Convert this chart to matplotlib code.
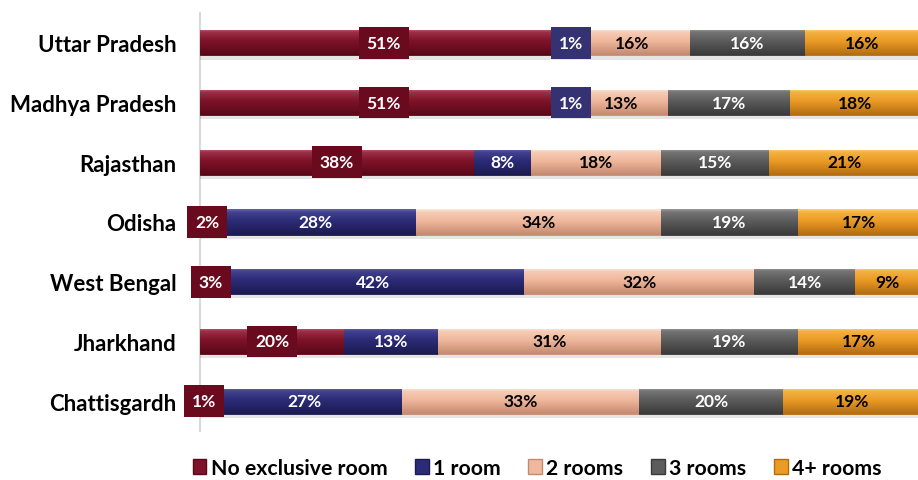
import numpy as np
import matplotlib
matplotlib.use("Agg")
import matplotlib.pyplot as plt
from matplotlib.colors import to_rgb
from matplotlib.patches import Patch

plt.rcParams['font.family'] = ['Lato', 'DejaVu Sans']

states = ["Uttar Pradesh", "Madhya Pradesh", "Rajasthan", "Odisha",
          "West Bengal", "Jharkhand", "Chattisgardh"]
series_names = ["No exclusive room", "1 room", "2 rooms", "3 rooms", "4+ rooms"]
no_room = [51, 51, 38, 2, 3, 20, 1]
one_room = [1, 1, 8, 28, 42, 13, 27]
two_rooms = [16, 13, 18, 34, 32, 31, 33]
three_rooms = [16, 17, 15, 19, 14, 19, 20]
four_plus = [16, 18, 21, 17, 9, 17, 19]
values = [no_room, one_room, two_rooms, three_rooms, four_plus]

# (top highlight, base, bottom shade)
shades = [
    ("#c65a74", "#7e1229", "#5a0818"),
    ("#6462aa", "#2c2b78", "#1c1b50"),
    ("#fde8dc", "#f0b89c", "#c48a70"),
    ("#979797", "#5c5c5c", "#3a3a3a"),
    ("#ffd070", "#eb9c26", "#b46c10"),
]
label_colors = ["white", "white", "black", "white", "black"]
box_colors = ["#6a0a1e", "#353274", None, None, None]

fig = plt.figure(figsize=(9.18, 4.81), dpi=100)
ax = fig.add_axes([200 / 918, 1 - 432 / 481, 720 / 918, 418 / 481])

y = np.arange(len(states))
bar_h = 0.42
left = np.zeros(len(states))


def gradient_img(c_top, c_mid, c_bot, n=64):
    t = np.linspace(0, 1, n)
    a, b, c = (np.array(to_rgb(k)) for k in (c_top, c_mid, c_bot))
    rows = []
    for v in t:
        if v < 0.12:
            col = a + (b - a) * (v / 0.12) * 0.6
        elif v < 0.45:
            col = a + (b - a) * (0.6 + 0.4 * (v - 0.12) / 0.33)
        else:
            col = b + (c - b) * ((v - 0.45) / 0.55)
        rows.append(col)
    return np.array(rows)[:, None, :]


for k, vals in enumerate(values):
    vals = np.array(vals, dtype=float)
    # soft drop shadow under each segment
    ax.barh(y + 0.07, vals, left=left, height=bar_h, color="#000000",
            alpha=0.10, linewidth=0, zorder=1)
    bars = ax.barh(y, vals, left=left, height=bar_h, color=shades[k][1],
                   edgecolor=shades[k][2], linewidth=0.6, zorder=2)
    img = gradient_img(*shades[k])
    for p in bars:
        x0, w = p.get_x(), p.get_width()
        yc = p.get_y() + p.get_height() / 2
        im = ax.imshow(img, extent=(x0, x0 + w, yc + bar_h / 2, yc - bar_h / 2),
                       origin="upper", aspect="auto", zorder=3,
                       interpolation="bilinear")
        im.set_clip_path(p)
    for i, v in enumerate(vals):
        cx = left[i] + v / 2
        bbox = None
        if box_colors[k] is not None and (k == 0 or v < 5):
            bbox = dict(boxstyle="square,pad=0.45", facecolor=box_colors[k],
                        edgecolor="none")
        ax.text(cx, y[i], f"{int(v)}%", ha="center", va="center",
                color=label_colors[k], fontsize=12.5, fontweight="bold",
                bbox=bbox, zorder=6)
    left = left + vals

ax.set_xlim(0, 100)
ax.set_ylim(len(states) - 0.5, -0.5)
ax.set_yticks(y)
ax.set_yticklabels(states, fontsize=16, fontweight="bold")
ax.tick_params(axis="y", length=0, pad=17)
ax.set_xticks([])
for s in ["top", "right", "bottom"]:
    ax.spines[s].set_visible(False)
ax.spines["left"].set_color("#d9d9d9")
ax.spines["left"].set_linewidth(1.5)
ax.spines["left"].set_zorder(0)

handles = [Patch(facecolor=shades[k][1], edgecolor=shades[k][2], label=series_names[k])
           for k in range(len(series_names))]
fig.legend(handles=handles, loc="center", bbox_to_anchor=(537 / 918, 1 - 469 / 481),
           ncol=5, frameon=False, prop=dict(size=15.3, weight="bold"),
           handlelength=0.65, handleheight=0.65, handletextpad=0.2, columnspacing=1.3,
           borderpad=0.2)

fig.savefig("out.png", dpi=100)
